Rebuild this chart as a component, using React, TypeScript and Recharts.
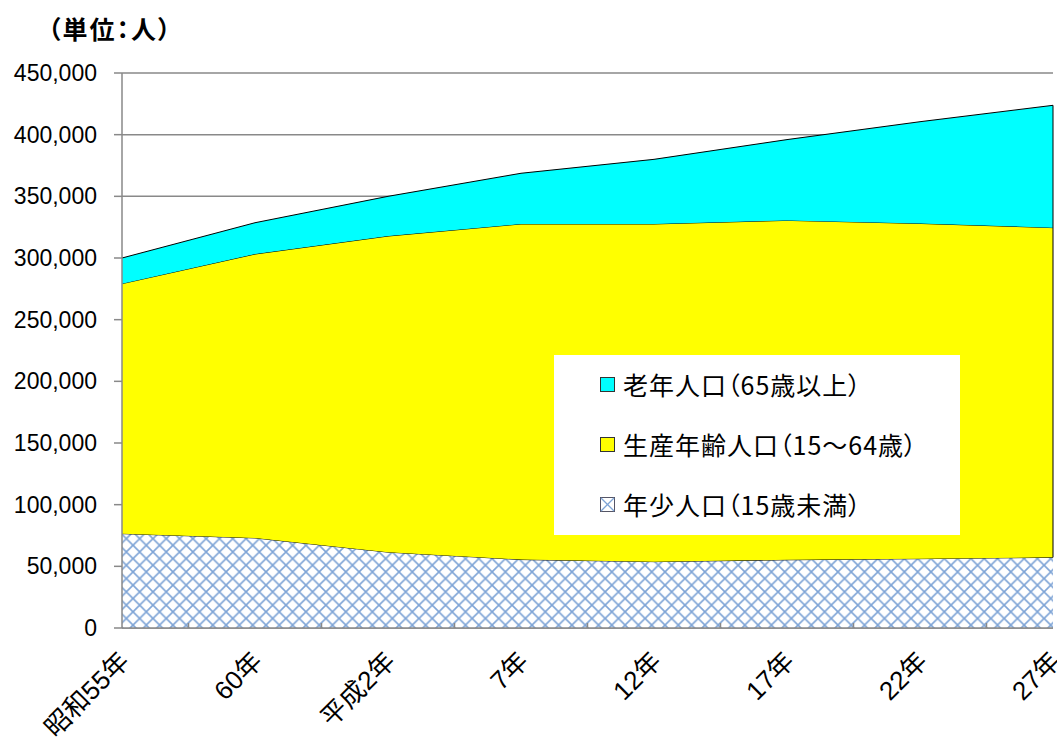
import React from "react";
import { AreaChart, Area, XAxis, YAxis, CartesianGrid, ReferenceLine } from "recharts";

const categories = ["昭和55年", "60年", "平成2年", "7年", "12年", "17年", "22年", "27年"];
const youth = [76500, 73000, 61500, 55500, 53800, 55300, 56200, 57300];
const working = [202700, 230200, 256300, 272100, 273800, 275200, 271800, 267300];
const elderly = [20800, 25400, 32200, 41100, 52400, 65500, 82500, 99200];
const yTicks = [0, 50000, 100000, 150000, 200000, 250000, 300000, 350000, 400000, 450000];
const seriesNames = {
  elderly: "老年人口（65歳以上）",
  working: "生産年齢人口（15～64歳）",
  youth: "年少人口（15歳未満）",
};
const unitLabel = "（単位：人）";

const data = categories.map((c, i) => ({
  name: c,
  youth: youth[i],
  working: working[i],
  elderly: elderly[i],
}));

const W = 1057;
const H = 740;
const M = { top: 73, right: 4, left: 0, bottom: 0 };
const Y_W = 122;
const X_H = 112;
const PLOT_W = W - M.left - M.right - Y_W;
const STEP = PLOT_W / (categories.length - 1);
const AXIS_COLOR = "#898989";
const NUM_FONT = "'Liberation Sans', Arial, sans-serif";
const JP_FONT = "'Noto Sans CJK JP', 'Noto Sans', sans-serif";

const XTick = (props: any) => {
  const { x, y, payload, index } = props;
  const axisY = y;
  const tx = x - 4;
  const ty = axisY + 22;
  return (
    <g>
      {index < categories.length - 1 && (
        <line x1={x + STEP / 2} x2={x + STEP / 2} y1={axisY} y2={axisY - 5} stroke={AXIS_COLOR} strokeWidth={1.5} />
      )}
      <text
        x={tx}
        y={ty}
        transform={`rotate(-45, ${tx}, ${ty})`}
        textAnchor="end"
        fontSize={26}
        fontFamily={`'Liberation Sans', ${JP_FONT}`}
        fill="#000"
        dy="0.7em"
      >
        {payload.value}
      </text>
    </g>
  );
};

const Swatch = ({ kind }: { kind: string }) => {
  if (kind === "youth") {
    return (
      <svg width={15} height={15} style={{ display: "block" }}>
        <rect x={0.5} y={0.5} width={14} height={14} fill="#fff" stroke="#556" strokeWidth={1} />
        <line x1={1} y1={1} x2={14} y2={14} stroke="#7ea4d6" strokeWidth={1.3} />
        <line x1={14} y1={1} x2={1} y2={14} stroke="#7ea4d6" strokeWidth={1.3} />
      </svg>
    );
  }
  const fill = kind === "elderly" ? "#00FFFF" : "#FFFF00";
  return (
    <svg width={15} height={15} style={{ display: "block" }}>
      <rect x={0.5} y={0.5} width={14} height={14} fill={fill} stroke="#333" strokeWidth={1} />
    </svg>
  );
};

const LegendBox = () => {
  const items = ["elderly", "working", "youth"];
  return (
    <div
      style={{
        position: "absolute",
        left: 554,
        top: 355,
        width: 406,
        height: 180,
        background: "#fff",
        zIndex: 2,
      }}
    >
      {items.map((k, i) => (
        <div
          key={k}
          style={{
            position: "absolute",
            left: 46,
            top: 29 + i * 60 - 16,
            height: 32,
            display: "flex",
            alignItems: "center",
            whiteSpace: "nowrap",
          }}
        >
          <Swatch kind={k} />
          <span
            style={{
              marginLeft: 8,
              fontSize: 25,
              letterSpacing: 1,
              fontFamily: JP_FONT,
              fontFeatureSettings: "'palt'",
              color: "#000",
              lineHeight: "32px",
            }}
          >
            {(seriesNames as any)[k]}
          </span>
        </div>
      ))}
    </div>
  );
};

export default function App() {
  const last = data[data.length - 1];
  return (
    <div
      style={{
        position: "fixed",
        left: 0,
        top: 0,
        width: W,
        height: H,
        overflow: "hidden",
        background: "#fff",
      }}
    >
      <div
        style={{
          position: "absolute",
          left: 48,
          top: 13,
          fontSize: 25,
          fontWeight: "bold",
          letterSpacing: 2,
          fontFamily: JP_FONT,
          fontFeatureSettings: "'palt'",
          color: "#000",
          lineHeight: "30px",
          whiteSpace: "nowrap",
          zIndex: 2,
        }}
      >
        {unitLabel}
      </div>
      <AreaChart width={W} height={H} data={data} margin={M} style={{ display: "block" }}>
        <defs>
          <pattern id="hatch" patternUnits="userSpaceOnUse" width={13.3} height={13.3} x={0} y={0}>
            <rect width={13.3} height={13.3} fill="#fff" />
            <path d="M0,0 L13.3,13.3 M13.3,0 L0,13.3" stroke="#7ea4d6" strokeWidth={1.6} />
          </pattern>
        </defs>
        <CartesianGrid vertical={false} stroke={AXIS_COLOR} strokeWidth={1.5} />
        <XAxis
          dataKey="name"
          height={X_H}
          interval={0}
          tickSize={0}
          tickMargin={0}
          tickLine={false}
          axisLine={{ stroke: AXIS_COLOR, strokeWidth: 1.5 }}
          tick={<XTick />}
        />
        <YAxis
          width={Y_W}
          domain={[0, 450000]}
          ticks={yTicks}
          interval={0}
          tickSize={8}
          tickMargin={17}
          tickLine={{ stroke: AXIS_COLOR, strokeWidth: 1.5 }}
          axisLine={{ stroke: AXIS_COLOR, strokeWidth: 1.5 }}
          tick={{ fill: "#000", fontSize: 23, fontFamily: NUM_FONT }}
          tickFormatter={(v: number) => v.toLocaleString("en-US")}
        />
        <Area
          type="linear"
          dataKey="youth"
          name={seriesNames.youth}
          stackId="1"
          fill="url(#hatch)"
          fillOpacity={1}
          stroke="#000"
          strokeWidth={1}
          isAnimationActive={false}
        />
        <Area
          type="linear"
          dataKey="working"
          name={seriesNames.working}
          stackId="1"
          fill="#FFFF00"
          fillOpacity={1}
          stroke="#000"
          strokeWidth={1}
          isAnimationActive={false}
        />
        <Area
          type="linear"
          dataKey="elderly"
          name={seriesNames.elderly}
          stackId="1"
          fill="#00FFFF"
          fillOpacity={1}
          stroke="#000"
          strokeWidth={1}
          isAnimationActive={false}
        />
        <ReferenceLine
          segment={[
            { x: last.name, y: last.youth },
            { x: last.name, y: last.youth + last.working + last.elderly },
          ]}
          stroke="#000"
          strokeWidth={1}
        />
      </AreaChart>
      <LegendBox />
    </div>
  );
}
